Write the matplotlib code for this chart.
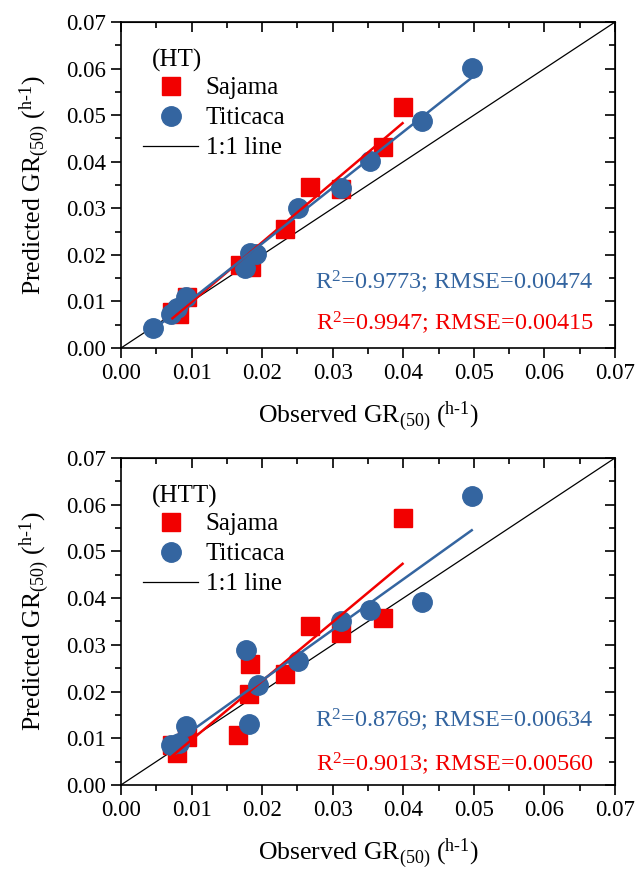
import numpy as np
import matplotlib
matplotlib.use('Agg')
import matplotlib.pyplot as plt
from matplotlib.ticker import MultipleLocator

plt.rcParams['font.family'] = 'Liberation Serif'
plt.rcParams['mathtext.fontset'] = 'custom'
plt.rcParams['mathtext.rm'] = 'Liberation Serif'
plt.rcParams['mathtext.it'] = 'Liberation Serif:italic'

red = '#f20000'
blue = '#3465a0'

# HT panel
ht_saj_obs = [0.0399, 0.0371, 0.0268, 0.0312, 0.0232, 0.0168, 0.0184, 0.0094, 0.0073, 0.0082]
ht_saj_pred = [0.0518, 0.0432, 0.0346, 0.0341, 0.0255, 0.0178, 0.0175, 0.0109, 0.0078, 0.0074]
ht_tit_obs = [0.0497, 0.0426, 0.0353, 0.0312, 0.0251, 0.0183, 0.0191, 0.0176, 0.0092, 0.0080, 0.0071, 0.0045]
ht_tit_pred = [0.0602, 0.0487, 0.0402, 0.0344, 0.0300, 0.0205, 0.0202, 0.0171, 0.0110, 0.0085, 0.0074, 0.0042]

# HTT panel
htt_saj_obs = [0.0399, 0.0371, 0.0268, 0.0312, 0.0183, 0.0232, 0.0181, 0.0166, 0.0094, 0.0073, 0.0080]
htt_saj_pred = [0.0571, 0.0357, 0.0340, 0.0326, 0.0258, 0.0237, 0.0194, 0.0108, 0.0103, 0.0086, 0.0069]
htt_tit_obs = [0.0497, 0.0426, 0.0353, 0.0312, 0.0251, 0.0177, 0.0194, 0.0182, 0.0092, 0.0082, 0.0071]
htt_tit_pred = [0.0619, 0.0391, 0.0375, 0.0351, 0.0266, 0.0289, 0.0214, 0.0130, 0.0127, 0.0089, 0.0086]

panels = [
    ('(HT)', ht_saj_obs, ht_saj_pred, ht_tit_obs, ht_tit_pred,
     'R$^2$=0.9773; RMSE=0.00474', 'R$^2$=0.9947; RMSE=0.00415', 0.203, 0.078),
    ('(HTT)', htt_saj_obs, htt_saj_pred, htt_tit_obs, htt_tit_pred,
     'R$^2$=0.8769; RMSE=0.00634', 'R$^2$=0.9013; RMSE=0.00560', 0.201, 0.067),
]

fig = plt.figure(figsize=(6.44, 8.69), dpi=100)
boxes = [[0.1878, 0.5995, 0.7672, 0.3751], [0.1878, 0.0967, 0.7672, 0.3763]]

for box, (tag, sx, sy, tx, ty, txt_b, txt_r, yb, yr) in zip(boxes, panels):
    ax = fig.add_axes(box)
    ax.plot([0, 0.07], [0, 0.07], color='black', lw=0.9, label='1:1 line', zorder=1)

    # fitted lines
    for x, y, c in [(sx, sy, red), (tx, ty, blue)]:
        k, b = np.polyfit(x, y, 1)
        xx = np.array([min(x), max(x)])
        ax.plot(xx, k * xx + b, color=c, lw=1.8, zorder=4)

    s = ax.plot(sx, sy, 's', color=red, ms=12.5, ls='none', label='Sajama', zorder=2)[0]
    t = ax.plot(tx, ty, 'o', color=blue, ms=14, ls='none', label='Titicaca', zorder=3)[0]

    ax.set_xlim(0, 0.07)
    ax.set_ylim(0, 0.07)
    ax.xaxis.set_major_locator(MultipleLocator(0.01))
    ax.yaxis.set_major_locator(MultipleLocator(0.01))
    ax.xaxis.set_minor_locator(MultipleLocator(0.005))
    ax.yaxis.set_minor_locator(MultipleLocator(0.005))
    ax.xaxis.set_major_formatter(plt.FormatStrFormatter('%.2f'))
    ax.yaxis.set_major_formatter(plt.FormatStrFormatter('%.2f'))
    ax.tick_params(which='both', direction='out', labelsize=16.5, width=1.2)
    ax.tick_params(which='major', length=7, pad=4)
    ax.tick_params(which='minor', length=4)
    for sp in ax.spines.values():
        sp.set_linewidth(1.2)

    # inward ticks on top / right
    ax2 = ax.secondary_xaxis('top')
    ax2.xaxis.set_major_locator(MultipleLocator(0.01))
    ax2.xaxis.set_minor_locator(MultipleLocator(0.005))
    ax2.tick_params(which='both', direction='in', labeltop=False, width=1.2)
    ax2.tick_params(which='major', length=7)
    ax2.tick_params(which='minor', length=4)
    ay2 = ax.secondary_yaxis('right')
    ay2.yaxis.set_major_locator(MultipleLocator(0.01))
    ay2.yaxis.set_minor_locator(MultipleLocator(0.005))
    ay2.tick_params(which='both', direction='in', labelright=False, width=1.2)
    ay2.tick_params(which='major', length=7)
    ay2.tick_params(which='minor', length=4)

    ax.set_xlabel('Observed GR$_{(50)}$ ($^{\\mathrm{h\\text{-}1}}$)', fontsize=18.5, labelpad=11)
    ax.set_ylabel('Predicted GR$_{(50)}$ ($^{\\mathrm{h\\text{-}1}}$)', fontsize=18.5, labelpad=10)

    ax.text(0.063, 0.882, tag, transform=ax.transAxes, fontsize=18, va='center')
    ax.legend(handles=[s, t, ax.lines[0]], loc='upper left', bbox_to_anchor=(0.045, 0.832),
              frameon=False, fontsize=18, handlelength=2.2, handletextpad=0.3,
              labelspacing=0.3, borderaxespad=0, borderpad=0)

    ax.text(0.957, yb, txt_b, transform=ax.transAxes, color=blue, fontsize=17.5,
            ha='right', va='center')
    ax.text(0.957, yr, txt_r, transform=ax.transAxes, color=red, fontsize=17.5,
            ha='right', va='center')

fig.savefig('out.png', dpi=100)
